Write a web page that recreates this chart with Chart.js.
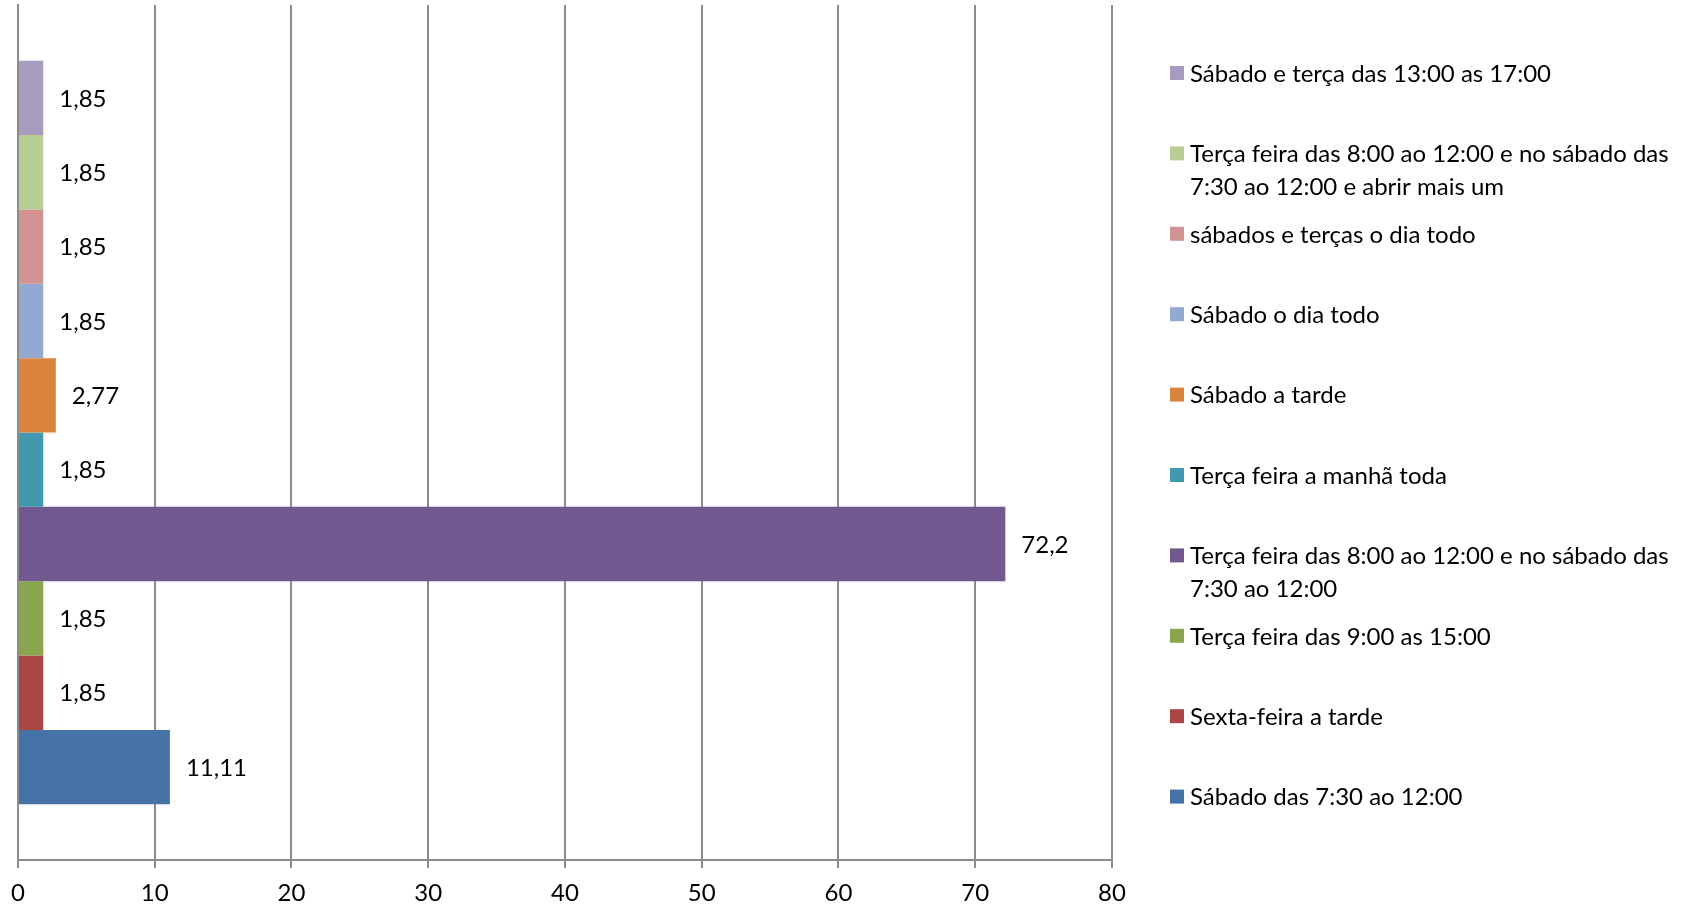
<!DOCTYPE html>
<html lang="pt">
<head>
<meta charset="UTF-8">
<title>Horário de funcionamento</title>
<script src="https://cdn.jsdelivr.net/npm/chart.js"></script>
<style>
  html, body { margin: 0; padding: 0; background: #fff; }
  #wrap { width: 1702px; height: 907px; position: relative; }
</style>
</head>
<body>
<div id="wrap"><canvas id="chart"></canvas></div>
<script>
// series in Excel order (first = bottom bar, last legend entry)
const seriesNames = [
  "Sábado das 7:30 ao 12:00",
  "Sexta-feira a tarde",
  "Terça feira das 9:00 as 15:00",
  "Terça feira das 8:00 ao 12:00 e no sábado das 7:30 ao 12:00",
  "Terça feira a manhã toda",
  "Sábado a tarde",
  "Sábado o dia todo",
  "sábados e terças o dia todo",
  "Terça feira das 8:00 ao 12:00 e no sábado das 7:30 ao 12:00 e abrir mais um",
  "Sábado e terça das 13:00 as 17:00"
];
const seriesValues = [11.11, 1.85, 1.85, 72.2, 1.85, 2.77, 1.85, 1.85, 1.85, 1.85];
const seriesColors = [
  "#4572a7", "#aa4643", "#89a54e", "#71588f", "#4198af",
  "#db843d", "#93a9cf", "#d19392", "#b9cd96", "#a99bbd"
];
const xMin = 0, xMax = 80, xStep = 10;

const FONT = "Lato, 'DejaVu Sans', sans-serif";
const FONT_SIZE = 24;
const GRID = "#8c8c8c";

// chart.js puts dataset 0 on top, so feed them top-down
const datasets = seriesNames.map((name, i) => ({
  label: name,
  data: [seriesValues[i]],
  backgroundColor: seriesColors[i],
  borderWidth: 0
})).reverse();

const fmt = v => String(v).replace(".", ",");

const valueLabels = {
  id: "valueLabels",
  afterDatasetsDraw(chart) {
    const ctx = chart.ctx;
    ctx.save();
    ctx.font = FONT_SIZE + "px " + FONT;
    ctx.fillStyle = "#000";
    ctx.textAlign = "left";
    ctx.textBaseline = "middle";
    chart.data.datasets.forEach((ds, i) => {
      const el = chart.getDatasetMeta(i).data[0];
      ctx.fillText(fmt(ds.data[0]), el.x + 16, el.y + 1);
    });
    ctx.restore();
  }
};

const sideLegend = {
  id: "sideLegend",
  afterDraw(chart) {
    const ctx = chart.ctx;
    const boxX = 1170, textX = 1190, maxW = 505;
    ctx.save();
    ctx.font = FONT_SIZE + "px " + FONT;
    ctx.textAlign = "left";
    ctx.textBaseline = "middle";
    chart.data.datasets.forEach((ds, i) => {
      const y = 73 + i * 80.4;
      ctx.fillStyle = ds.backgroundColor;
      ctx.fillRect(boxX, y - 7, 14, 14);
      ctx.fillStyle = "#000";
      // wrap long names
      const words = ds.label.split(" ");
      let line = "", ly = y;
      words.forEach(w => {
        const test = line ? line + " " + w : w;
        if (ctx.measureText(test).width > maxW && line) {
          ctx.fillText(line, textX, ly + 1);
          line = w;
          ly += 32.5;
        } else {
          line = test;
        }
      });
      ctx.fillText(line, textX, ly + 1);
    });
    ctx.restore();
  }
};

new Chart(document.getElementById("chart"), {
  type: "bar",
  data: { labels: [""], datasets: datasets },
  options: {
    indexAxis: "y",
    responsive: true,
    maintainAspectRatio: false,
    animation: false,
    layout: { padding: { left: 17, right: 590, top: 5, bottom: 0 } },
    datasets: { bar: { barPercentage: 1, categoryPercentage: 10 / 11.5 } },
    plugins: { legend: { display: false }, tooltip: { enabled: false } },
    scales: {
      x: {
        min: xMin, max: xMax,
        ticks: { stepSize: xStep, color: "#000", padding: 11, font: { family: FONT, size: FONT_SIZE } },
        grid: { color: GRID, lineWidth: 2, tickLength: 8, tickColor: GRID },
        border: { color: GRID, width: 2 },
        afterFit: s => { s.height = 47; }
      },
      y: {
        ticks: { display: false },
        grid: { display: false },
        border: { color: GRID, width: 2 },
        afterFit: s => { s.width = 0; }
      }
    }
  },
  plugins: [valueLabels, sideLegend]
});
</script>
</body>
</html>
